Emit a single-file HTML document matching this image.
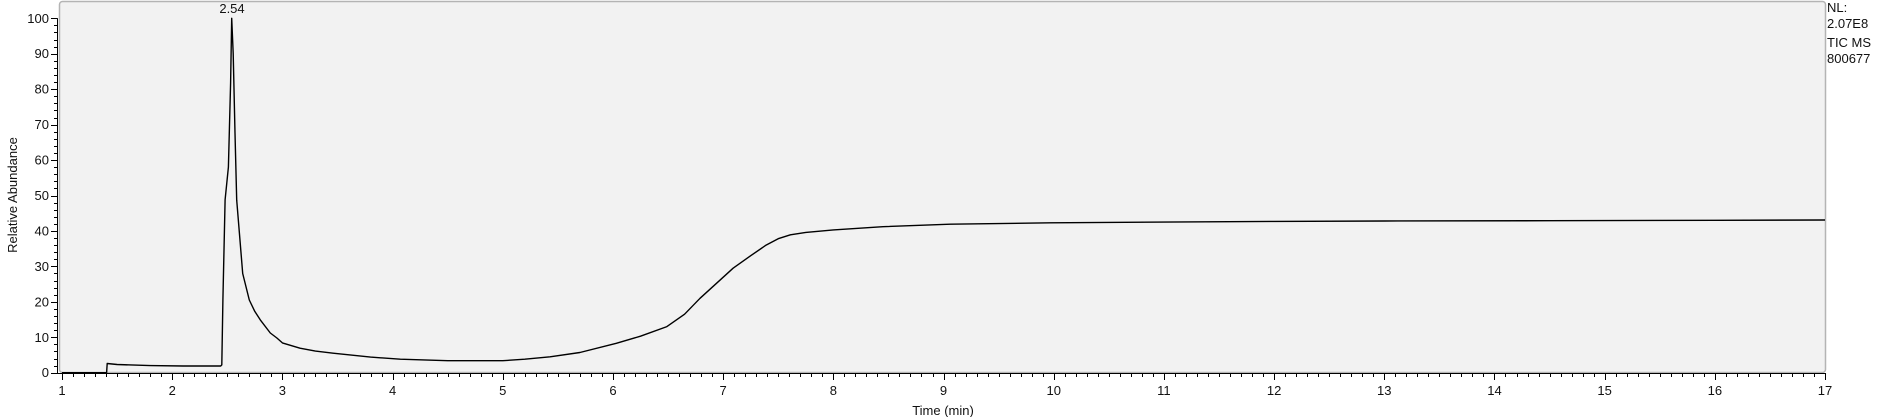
<!DOCTYPE html>
<html><head><meta charset="utf-8"><style>
html,body{margin:0;padding:0;background:#fff;width:1887px;height:417px;overflow:hidden}
svg{display:block;font-family:"Liberation Sans",Arial,sans-serif}
</style></head><body>
<svg id="chart" width="1887" height="417" viewBox="0 0 1887 417" xmlns="http://www.w3.org/2000/svg">
<rect x="59.5" y="1.5" width="1766" height="371" rx="3" fill="#f2f2f2" stroke="#b4b4b4" stroke-width="1.5"/>
<g id="axes"></g>
<path id="trace" fill="none" stroke="#000" stroke-width="1.4" stroke-linejoin="round"/>
<text x="232" y="13" font-size="13" text-anchor="middle" fill="#111">2.54</text>
<text transform="translate(17,195) rotate(-90)" font-size="13" text-anchor="middle" fill="#111">Relative Abundance</text>
<text x="943" y="415" font-size="13" text-anchor="middle" fill="#111">Time (min)</text>
<g font-size="13" fill="#111">
<text x="1827" y="12">NL:</text>
<text x="1827" y="28">2.07E8</text>
<text x="1827" y="47">TIC  MS</text>
<text x="1827" y="63">800677</text>
</g>
</svg>
<script>
const times = [1.0,1.405,1.41,1.5,1.8,2.1,2.44,2.45,2.46,2.48,2.51,2.53,2.54,2.554,2.57,2.585,2.61,2.64,2.70,2.75,2.80,2.89,2.95,3.0,3.16,3.3,3.46,3.8,4.07,4.5,5.0,5.2,5.43,5.7,6.03,6.25,6.49,6.65,6.79,6.95,7.09,7.25,7.39,7.5,7.61,7.75,8.0,8.45,9.06,9.97,11.0,12.0,13.0,14.5,16.0,17.0];
const values = [0,0,2.6,2.3,2.0,1.9,1.9,2.2,20.5,48.8,58,81.7,100,90,67.6,48.7,39.4,28,20.5,17.3,14.9,11.2,9.8,8.4,6.9,6.1,5.5,4.4,3.8,3.4,3.4,3.8,4.5,5.7,8.3,10.3,13,16.5,21,25.5,29.5,33,36,37.8,38.9,39.6,40.3,41.2,41.9,42.3,42.5,42.7,42.8,42.9,43.0,43.1];
const xTicks = [1,2,3,4,5,6,7,8,9,10,11,12,13,14,15,16,17];
const yTicks = [0,10,20,30,40,50,60,70,80,90,100];
const X0=62, XPX=110.19, Y0=372.7, YPX=3.544;
function xs(t){return X0+(t-1)*XPX;}
function ys(v){return Y0-v*YPX;}
const NS="http://www.w3.org/2000/svg";
const axes=document.getElementById('axes');
function el(tag,attrs,parent){const e=document.createElementNS(NS,tag);for(const k in attrs)e.setAttribute(k,attrs[k]);(parent||axes).appendChild(e);return e;}
const yl=el('line',{x1:57.5,y1:ys(100),x2:57.5,y2:Y0+0.5,stroke:'#000','stroke-width':1});


const xl=el('line',{x1:57,y1:373.5,x2:xs(17)+1,y2:373.5,stroke:'#000','stroke-width':1});


for(let v=0;v<=100;v+=2){const major=v%10===0;
 const t=el('line',{x1:major?51:54,x2:57.5,y1:Math.round(ys(v))+0.5,y2:Math.round(ys(v))+0.5,stroke:'#000','stroke-width':1});
 
 }
yTicks.forEach(v=>{const t=el('text',{x:49,y:ys(v)+4.5,'font-size':13,'text-anchor':'end',fill:'#111'});t.textContent=v;
 
 });
for(let i=0;i<=160;i++){const t0=1+i/10;const major=i%10===0;
 const t=el('line',{x1:Math.round(xs(t0))+0.5,x2:Math.round(xs(t0))+0.5,y1:373.5,y2:major?380:377,stroke:'#000','stroke-width':1});
 
 }
xTicks.forEach(v=>{const t=el('text',{x:xs(v),y:395,'font-size':13,'text-anchor':'middle',fill:'#111'});t.textContent=v;
 
 });
let d='';times.forEach((t,i)=>{d+=(i?'L':'M')+xs(t).toFixed(1)+' '+ys(values[i]).toFixed(1)+' ';});
document.getElementById('trace').setAttribute('d',d);
</script>
</body></html>
